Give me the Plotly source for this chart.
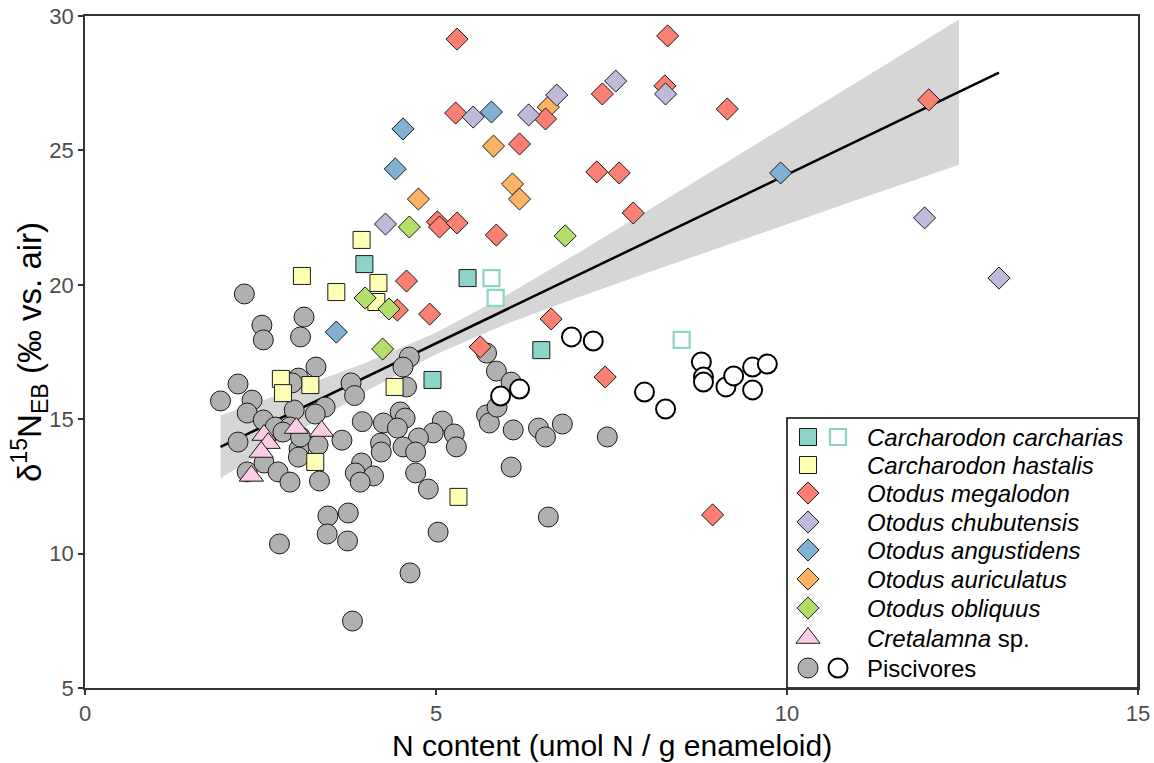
import plotly.graph_objects as go

# ---------------- data ----------------
pisc_gray_x = [2.27, 3.12, 2.52, 2.54, 3.07, 3.29, 3.04, 2.95, 2.18, 1.93,
               2.38, 2.31, 2.54, 2.71, 2.98, 3.42, 3.28, 3.79, 3.84, 3.95,
               2.18, 3.66, 2.92, 4.62, 4.53, 4.58, 4.25, 4.49, 4.56, 4.45,
               5.09, 4.96, 5.26, 4.75, 4.21, 4.22, 4.53, 4.71, 5.29, 5.72,
               5.76, 5.87, 5.86, 5.72, 6.07, 6.10, 6.46, 6.56, 6.80, 7.44,
               2.31, 2.55, 2.75, 2.92, 3.05, 3.04, 3.32, 3.34, 3.94, 3.85,
               4.11, 3.92, 4.71, 4.89, 3.46, 3.75, 3.45, 3.74, 2.77, 5.03,
               4.63, 3.81, 6.07, 6.60, 2.82, 3.07]
pisc_gray_y = [19.66, 18.80, 18.50, 17.95, 18.06, 16.94, 16.53, 16.35, 16.31, 15.68,
               15.71, 15.23, 14.97, 14.71, 15.34, 15.45, 15.19, 16.35, 15.88, 14.91,
               14.15, 14.22, 14.71, 17.31, 16.94, 16.20, 14.86, 15.27, 15.04, 14.67,
               14.93, 14.49, 14.45, 14.30, 14.11, 13.78, 13.97, 13.78, 13.97, 15.16,
               14.86, 15.45, 16.79, 17.46, 16.38, 14.60, 14.67, 14.34, 14.82, 14.34,
               13.04, 13.37, 13.04, 12.66, 13.89, 13.59, 14.04, 12.70, 13.37, 13.00,
               12.89, 12.66, 13.00, 12.40, 11.40, 11.51, 10.73, 10.47, 10.36, 10.80,
               9.28, 7.49, 13.22, 11.36, 14.52, 14.34]

pisc_open_x = [6.93, 7.24, 6.19, 5.92, 7.97, 8.27, 8.78, 8.81, 8.81, 9.13, 9.24, 9.51, 9.72, 9.51]
pisc_open_y = [18.06, 17.91, 16.12, 15.86, 16.01, 15.38, 17.13, 16.57, 16.38, 16.20, 16.61, 16.94, 17.05, 16.09]

carch_x = [3.98, 5.45, 4.95, 6.50]
carch_y = [20.77, 20.25, 16.46, 17.57]
carch_open_x = [5.79, 5.85, 8.50]
carch_open_y = [20.25, 19.51, 17.95]

hast_x = [3.94, 3.09, 3.58, 4.18, 4.15, 2.79, 2.82, 3.21, 4.41, 3.28, 5.32]
hast_y = [21.67, 20.33, 19.73, 20.07, 19.36, 16.50, 15.97, 16.27, 16.20, 13.41, 12.11]

meg_x = [5.30, 8.30, 7.37, 8.26, 9.15, 5.28, 6.56, 6.19, 7.29, 7.61, 7.81, 5.02,
         5.05, 5.30, 5.86, 12.02, 4.58, 4.45, 4.91, 6.64, 5.63, 7.41, 8.94]
meg_y = [29.14, 29.26, 27.10, 27.40, 26.54, 26.39, 26.17, 25.24, 24.20, 24.16, 22.67, 22.34,
         22.15, 22.30, 21.85, 26.88, 20.14, 19.06, 18.91, 18.73, 17.69, 16.57, 11.44]

chub_x = [7.56, 8.27, 6.72, 5.53, 6.32, 4.28, 11.96, 13.02]
chub_y = [27.58, 27.10, 27.06, 26.24, 26.32, 22.26, 22.49, 20.25]

ang_x = [5.79, 4.53, 4.42, 3.58, 9.91]
ang_y = [26.43, 25.80, 24.31, 18.24, 24.16]

aur_x = [6.60, 5.82, 6.09, 6.19, 4.75]
aur_y = [26.61, 25.16, 23.75, 23.19, 23.19]

obl_x = [4.62, 6.84, 3.99, 4.33, 4.24]
obl_y = [22.15, 21.82, 19.51, 19.10, 17.61]

cret_x = [2.55, 2.61, 2.51, 2.37, 3.01, 3.37]
cret_y = [14.41, 14.11, 13.78, 12.89, 14.67, 14.56]

fit_x = [1.93, 13.02]
fit_y = [13.97, 27.89]

band_x = [1.93, 3.0, 4.0, 5.0, 6.0, 7.0, 8.0, 9.0, 10.0, 11.0, 12.45]
band_hi = [15.14, 16.13, 17.10, 18.22, 19.61, 21.15, 22.74, 24.33, 25.94, 27.54, 29.87]
band_lo = [12.80, 14.49, 16.03, 17.42, 18.54, 19.51, 20.44, 21.35, 22.26, 23.16, 24.47]

legend_labels = ["<i>Carcharodon carcharias</i>", "<i>Carcharodon hastalis</i>",
                 "<i>Otodus megalodon</i>", "<i>Otodus chubutensis</i>",
                 "<i>Otodus angustidens</i>", "<i>Otodus auriculatus</i>",
                 "<i>Otodus obliquus</i>", "<i>Cretalamna</i> sp.", "Piscivores"]

x_ticks = [0, 5, 10, 15]
y_ticks = [5, 10, 15, 20, 25, 30]

# ---------------- styles ----------------
C_TEAL = "#8DD3C7"
C_YEL = "#FFFFB3"
C_RED = "#FB8072"
C_LAV = "#BEBADA"
C_BLUE = "#80B1D3"
C_ORA = "#FDB462"
C_GRN = "#B3DE69"
C_PINK = "#FCCDE5"
C_GRAY = "#B0B0B0"
EDGE = "#1a1a1a"
FONT = "Liberation Sans"

SZ_CIRC = 20
SZ_SQ = 17
SZ_DIA = 17
SZ_TRI = 21


def mk(symbol, size, fill, line_color=EDGE, lw=1.0):
    return dict(symbol=symbol, size=size, color=fill, line=dict(color=line_color, width=lw))


styles = [
    mk("square", SZ_SQ, C_TEAL),
    mk("square", SZ_SQ, C_YEL),
    mk("diamond", SZ_DIA, C_RED),
    mk("diamond", SZ_DIA, C_LAV),
    mk("diamond", SZ_DIA, C_BLUE),
    mk("diamond", SZ_DIA, C_ORA),
    mk("diamond", SZ_DIA, C_GRN),
    mk("triangle-up", SZ_TRI, C_PINK),
    mk("circle", SZ_CIRC, C_GRAY),
]
open_sq = mk("square", SZ_SQ - 1, "white", C_TEAL, 2.2)
open_ci = mk("circle", SZ_CIRC - 1, "white", "black", 2.0)

fig = go.Figure()

# confidence band
fig.add_trace(go.Scatter(x=band_x + band_x[::-1], y=band_hi + band_lo[::-1],
                         fill="toself", fillcolor="rgba(153,153,153,0.4)",
                         line=dict(width=0), mode="lines", hoverinfo="skip", showlegend=False))
# regression line
fig.add_trace(go.Scatter(x=fit_x, y=fit_y, mode="lines",
                         line=dict(color="black", width=2.5), showlegend=False))

# points
fig.add_trace(go.Scatter(x=pisc_gray_x, y=pisc_gray_y, mode="markers", marker=styles[8], showlegend=False))
fig.add_trace(go.Scatter(x=pisc_open_x, y=pisc_open_y, mode="markers", marker=open_ci, showlegend=False))
fig.add_trace(go.Scatter(x=carch_x, y=carch_y, mode="markers", marker=styles[0], showlegend=False))
fig.add_trace(go.Scatter(x=carch_open_x, y=carch_open_y, mode="markers", marker=open_sq, showlegend=False))
fig.add_trace(go.Scatter(x=hast_x, y=hast_y, mode="markers", marker=styles[1], showlegend=False))
fig.add_trace(go.Scatter(x=aur_x, y=aur_y, mode="markers", marker=styles[5], showlegend=False))
fig.add_trace(go.Scatter(x=meg_x, y=meg_y, mode="markers", marker=styles[2], showlegend=False))
fig.add_trace(go.Scatter(x=chub_x, y=chub_y, mode="markers", marker=styles[3], showlegend=False))
fig.add_trace(go.Scatter(x=ang_x, y=ang_y, mode="markers", marker=styles[4], showlegend=False))
fig.add_trace(go.Scatter(x=obl_x, y=obl_y, mode="markers", marker=styles[6], showlegend=False))
fig.add_trace(go.Scatter(x=cret_x, y=cret_y, mode="markers", marker=styles[7], showlegend=False))

# ---------------- hand-built legend on an overlay axis (0..1 of plot area) ----------------
W, H = 1154, 763
L, R, T, B = 85, 16, 16, 75
pw, ph = W - L - R, H - T - B


def fx(px):
    return (px - L) / pw


def fy(py):
    return (H - B - py) / ph


row_py = [437, 465, 493, 522, 550, 579, 608, 638, 668]
sym_x1, sym_x2, txt_x = fx(808), fx(838), fx(865)

for i, (lab, st) in enumerate(zip(legend_labels, styles)):
    yy = fy(row_py[i])
    fig.add_trace(go.Scatter(x=[sym_x1], y=[yy], mode="markers", marker=st,
                             xaxis="x2", yaxis="y2", showlegend=False, hoverinfo="skip"))
    if i == 0:
        fig.add_trace(go.Scatter(x=[sym_x2], y=[yy], mode="markers", marker=open_sq,
                                 xaxis="x2", yaxis="y2", showlegend=False, hoverinfo="skip"))
    if i == 8:
        fig.add_trace(go.Scatter(x=[sym_x2], y=[yy], mode="markers", marker=open_ci,
                                 xaxis="x2", yaxis="y2", showlegend=False, hoverinfo="skip"))
    fig.add_annotation(x=txt_x, y=yy, xref="paper", yref="paper", text=lab, showarrow=False,
                       xanchor="left", yanchor="middle",
                       font=dict(family=FONT, size=24, color="black"))

fig.add_shape(type="rect", xref="paper", yref="paper", x0=fx(787), x1=1.0, y0=0.0, y1=fy(418),
              line=dict(color="black", width=1.5), fillcolor="rgba(0,0,0,0)", layer="below")

# axis titles
fig.add_annotation(x=0.5, y=fy(745), xref="paper", yref="paper", showarrow=False,
                   text="N content (umol N / g enameloid)", xanchor="center", yanchor="middle",
                   font=dict(family=FONT, size=30, color="black"))
fig.add_annotation(x=fx(29), y=0.5, xref="paper", yref="paper", showarrow=False, textangle=-90,
                   text="δ<sup>15</sup>N<sub>EB</sub> (‰ vs. air)", xanchor="center", yanchor="middle",
                   font=dict(family=FONT, size=33, color="black"))

axis_common = dict(showgrid=False, zeroline=False, showline=True, mirror=True,
                   linecolor="#333333", linewidth=1.6, ticks="outside", ticklen=5,
                   tickwidth=1.6, tickcolor="#333333", automargin=False,
                   tickfont=dict(family=FONT, size=22, color="#4D4D4D"))

fig.update_layout(
    width=W, height=H,
    margin=dict(l=L, r=R, t=T, b=B),
    paper_bgcolor="white", plot_bgcolor="white",
    showlegend=False,
    xaxis=dict(range=[0, 15], tickvals=x_ticks, **axis_common),
    yaxis=dict(range=[5, 30], tickvals=y_ticks, **axis_common),
    xaxis2=dict(range=[0, 1], overlaying="x", visible=False, fixedrange=True),
    yaxis2=dict(range=[0, 1], overlaying="y", visible=False, fixedrange=True),
)

fig.write_html("out.html")
